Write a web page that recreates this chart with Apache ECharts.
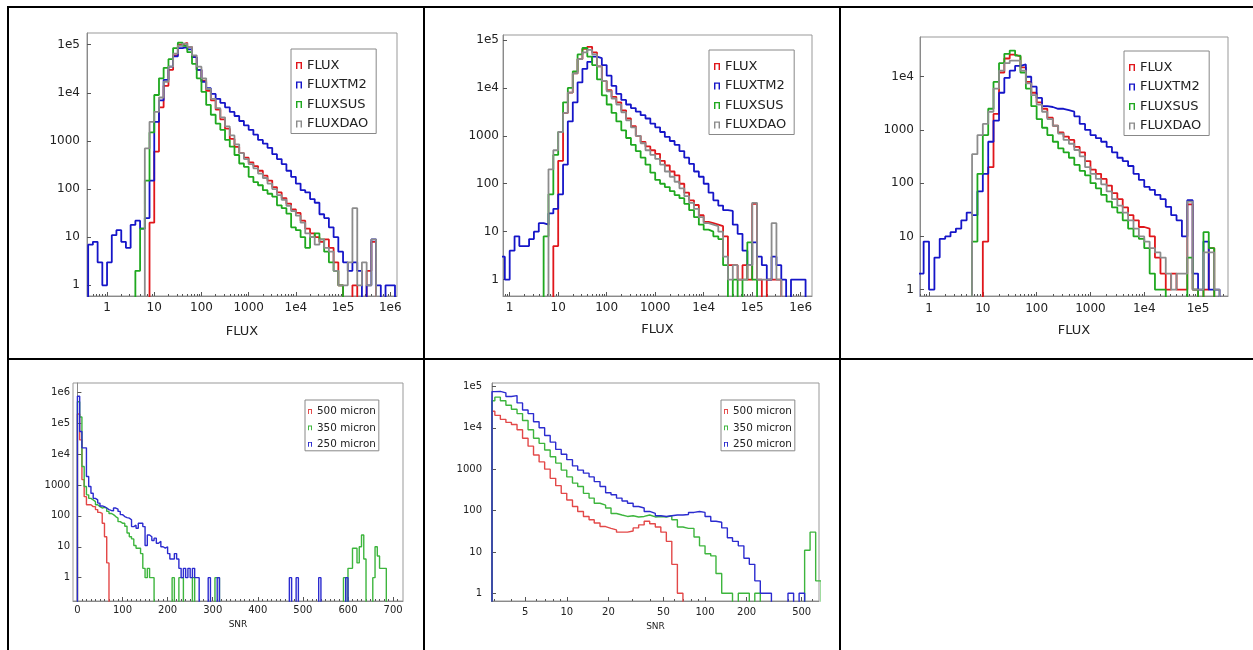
<!DOCTYPE html>
<html><head><meta charset="utf-8">
<script src="https://cdn.jsdelivr.net/npm/echarts@6/dist/echarts.min.js"></script>
<style>
html,body{margin:0;padding:0;background:#fff;}
#wrap{position:relative;width:1253px;height:650px;overflow:hidden;background:#fff;}
#chart{position:absolute;left:0;top:0;width:1253px;height:650px;}
.ln{position:absolute;background:#000;}
</style></head><body>
<div id="wrap">
<div id="chart"></div>
<div class="ln" style="left:7px;top:6px;width:1246px;height:2px"></div>
<div class="ln" style="left:7px;top:6px;width:2px;height:644px"></div>
<div class="ln" style="left:423px;top:6px;width:2px;height:644px"></div>
<div class="ln" style="left:839px;top:6px;width:2px;height:644px"></div>
<div class="ln" style="left:7px;top:358px;width:1246px;height:2px"></div>
</div>
<script>
// ---------------- DATA ----------------
// Shared log bin edges for the three FLUX histograms (0.1 dex bins)
const FLUX_EDGES = [0.398,0.501,0.631,0.794,
 1,1.26,1.58,2,2.51,3.16,3.98,5.01,6.31,7.94,
 10,12.6,15.8,20,25.1,31.6,39.8,50.1,63.1,79.4,
 100,126,158,200,251,316,398,501,631,794,
 1000,1260,1580,2000,2510,3160,3980,5010,6310,7940,
 1e4,1.26e4,1.58e4,2e4,2.51e4,3.16e4,3.98e4,5.01e4,6.31e4,7.94e4,
 1e5,1.26e5,1.58e5,2e5,2.51e5,3.16e5,3.98e5,5.01e5,6.31e5,7.94e5,
 1e6,1.26e6];
const FLUX_NAMES = ['FLUX','FLUXTM2','FLUXSUS','FLUXDAO'];

// Panel 1
const P1_FLUX = [0,0,0,0,0,0,0,0,0,0, 0,0,0,20,600,5000,14000,30000,60000,100000,
 110000,90000,55000,30000,18000,11000,7000,4500,2800,1800, 1100,750,560,450,360,300,240,190,150,110,
 85,65,50,38,32,22,15,12,10,8, 9,6,3,1,0,0,1,0,0,2, 8,0,0,0,0];
const P1_FLUXTM2 = [7,8,3,1,3,11,14,8,6,18, 22,15,25,150,2500,7000,18600,35000,57000,85000,
 90000,80000,55000,30000,17000,12500,9500,7500,6200,5000, 4000,3300,2600,2100,1700,1350,1050,880,720,530,
 420,330,240,180,130,95,85,62,52,30, 25,16,10,5,3,2,3,2,0,1, 9,1,0,1,1];
const P1_FLUXSUS = [0,0,0,0,0,0,0,0,0,0, 2,15,150,1500,9000,20000,33000,50000,85000,110000,
 95000,70000,40000,20000,10500,5600,3500,2300,1700,1050, 760,510,340,290,180,140,120,95,80,70,
 46,40,31,16,14,10,6,10,12,9, 5,3,2,1,0,0,0,0,0,0, 0,0,0,0,0];
const P1_FLUXDAO = [0,0,0,0,0,0,0,0,0,0, 0,0,700,2500,4000,8000,17000,35000,65000,95000,
 105000,90000,60000,35000,20000,12000,7500,4800,3100,2000, 1300,850,560,420,330,270,210,170,130,100,
 75,60,45,35,28,20,12,10,7,9, 6,5,2,1,1,3,40,1,3,1, 9,0,0,0,0];

// Panel 2
const P2_FLUX = [0,0,0,0,0,0,0,0,0,0, 0,0,0,5,300,3000,8000,20000,40000,65000,
 72000,55000,28000,14000,9000,6500,5000,3400,2300,1600, 1000,750,600,500,420,300,240,180,150,100,
 65,45,36,22,16,15,14,13,8,2, 2,1,2,1,38,1,0,1,1,1, 0,0,0,0,0];
const P2_FLUXTM2 = [0,0,3,1,4,8,5,5,7,10, 15,14,24,30,60,250,2000,5000,13000,25000,
 35000,45000,42000,30000,18000,11000,7500,5600,4500,3800, 3200,2700,2300,1800,1500,1200,950,780,650,480,
 350,260,180,140,100,65,45,35,28,27, 14,9,4,2,6,3,2,1,3,2, 1,0,1,1,1];
const P2_FLUXSUS = [0,0,0,0,0,0,0,0,0,0, 0,8,60,400,1200,5000,10000,22000,50000,68000,
 45000,30000,15000,7000,4500,3000,2000,1300,900,650, 480,350,250,170,120,100,85,70,58,50,
 38,28,20,14,11,10,8,7,2,0, 1,0,1,6,1,0,0,0,0,0, 0,0,0,0,0];
const P2_FLUXDAO = [0,0,0,0,0,0,0,0,0,0, 0,0,200,500,1200,3000,8000,20000,40000,55000,
 62000,50000,28000,14000,8500,6000,4500,3100,2100,1500, 1000,700,500,400,330,250,180,140,110,80,
 55,40,30,20,15,14,13,10,3,1, 2,1,1,2,40,1,1,1,15,1, 0,0,0,0,0];

// Panel 3
const P3_FLUX = [0,0,0,0,0,0,0,0,0,0, 0,0,0,0,8,200,2000,12000,22000,26000,
 24000,15000,8000,5000,3300,2500,1700,1200,900,750, 650,480,380,260,180,150,120,90,65,50,
 35,25,20,15,14,10,4,2,1,2, 1,1,40,1,0,1,6,0,0,0, 0,0,0,0,0];
const P3_FLUXTM2 = [0,0,2,8,1,4,9,10,12,14, 20,28,25,70,150,600,1500,5000,9500,13000,
 16000,17000,10000,6500,4000,2800,2700,2500,2500,2350, 2200,1800,1300,1000,800,700,600,480,380,300,
 260,210,150,115,85,75,60,50,36,25, 20,10,48,2,1,8,1,1,0,0, 0,0,0,0,0];
const P3_FLUXSUS = [0,0,0,0,0,0,0,0,0,0, 0,0,8,150,800,2500,8000,18000,27000,31000,
 25000,12000,6000,2800,1600,1100,800,600,450,380, 300,220,170,140,100,80,60,45,35,28,
 20,14,10,9,6,2,1,1,0,0, 0,0,4,1,0,12,6,0,0,0, 0,0,0,0,0];
const P3_FLUXDAO = [0,0,0,0,0,0,0,0,0,0, 0,0,350,800,1300,2200,6000,13000,18000,20000,
 20000,13000,7500,4500,3000,2200,1600,1200,850,650, 550,420,320,200,150,120,95,70,50,38,
 28,20,14,10,8,6,5,4,2,1, 2,2,45,1,1,5,5,1,0,0, 0,0,0,0,0];

// Panel 4 (linear SNR, bins of width 5): [bin start, count]
const SNR_LIN_BIN = 5;
const P4_500 = [[0,200000],[5,29000],[10,1500],[15,420],[20,230],[25,230],[30,200],[35,200],[40,160],[45,130],
 [50,120],[55,58],[60,21],[65,3]];
const P4_350 = [[0,500000],[5,160000],[10,4000],[15,900],[20,480],[25,370],[30,330],[35,290],[40,230],[45,200],
 [50,180],[55,190],[60,180],[65,140],[70,120],[75,110],[80,95],[85,85],[90,65],[95,58],[100,58],[105,46],
 [110,28],[115,21],[120,18],[125,11],[130,9],[135,9],[140,6],[145,2],[150,1],[155,2],[160,1],[165,1],
 [210,1],[225,1],[230,1],[255,1],[305,1],[310,1],
 [590,1],[600,2],[605,2],[610,9],[615,9],[620,3],[625,10],[630,24],[635,4],
 [655,1],[660,10],[665,5],[670,2],[675,2],[680,2]];
const P4_250 = [[0,750000],[5,54000],[10,16000],[15,16000],[20,1900],[25,900],[30,540],[35,370],[40,330],[45,260],
 [50,210],[55,200],[60,180],[65,160],[70,150],[75,145],[80,180],[85,165],[90,140],[95,110],[100,95],[105,88],
 [110,85],[115,75],[120,45],[125,50],[130,40],[135,58],[140,58],[145,45],[150,11],[155,24],[160,21],[165,16],
 [170,19],[175,13],[180,15],[185,10],[190,9],[195,10],[200,6],[205,4],[210,4],[215,6],[220,4],[225,2],[230,1],
 [235,2],[240,1],[245,2],[250,1],[255,2],[260,1],[265,1],[290,1],[310,1],[470,1],[485,1],[535,1],[595,1]];

// Panel 5 (log SNR bins)
const SNR_EDGES = [2.88,3.02,3.31,3.63,3.98,4.37,4.79,5.25,5.75,6.31,6.92,7.59,8.32,9.12,10,11,12,13.2,14.5,15.8,
 17.4,19.1,20.9,22.9,25.1,27.5,30.2,33.1,36.3,39.8,43.7,47.9,52.5,57.5,63.1,69.2,75.9,83.2,91.2,100,
 110,120,132,145,158,174,191,209,229,251,275,302,331,363,398,437,479,525,575,631,692];
const P5_500 = [25000,20000,16000,13500,12000,9000,5600,3600,2200,1500, 1000,600,400,260,180,125,95,72,60,50,
 41,37,34,30,30,32,38,45,55,48, 40,30,18,5,1,0,0,0,0,0, 0,0,0,0,0,0,0,0,0,0, 0,0,0,0,0,0,0,0,0,0];
const P5_350 = [45000,55000,45000,35000,28000,22000,15000,9000,5600,4200, 2900,2000,1400,950,650,460,380,260,200,150,
 135,115,85,78,72,75,70,72,78,70, 72,70,75,60,40,37,37,23,14,9, 8,3,1,1,0,1,1,0,1,0, 0,0,0,0,0,0,0,11,30,2];
const P5_250 = [75000,76000,70000,57000,60000,40000,27000,22000,14000,10000, 6500,4500,3000,2300,1700,1200,950,800,650,500,
 380,270,240,200,170,150,125,115,95,85, 75,72,75,78,78,80,90,95,90,72, 55,52,38,22,18,14,7,5,2,1, 1,0,0,0,1,0,1,0,0,0];
const SNR_NAMES = ['500 micron','350 micron','250 micron'];

// Tick values and labels
const FLUX_XTICKS = [1,10,100,1000,1e4,1e5,1e6];
const FLUX_XLABELS = ['1','10','100','1000','1e4','1e5','1e6'];
const COUNT_TICKS = [1,10,100,1000,1e4,1e5,1e6];
const COUNT_LABELS = ['1','10','100','1000','1e4','1e5','1e6'];
const SNR_LIN_TICKS = [0,100,200,300,400,500,600,700];
const SNR_LIN_LABELS = ['0','100','200','300','400','500','600','700'];
const SNR_LOG_TICKS = [5,10,20,50,100,200,500];
const SNR_LOG_LABELS = ['5','10','20','50','100','200','500'];
const FLUX_MINOR = [];
[0.1,1,10,100,1000,1e4,1e5,1e6].forEach(d => [2,3,4,5,6,7,8,9].forEach(m => FLUX_MINOR.push(+(d*m).toPrecision(3))));
const SNR_LOG_MINOR = [3,4,6,7,8,9,30,40,60,70,80,90,300,400,600];
const SNR_LIN_MINOR = [];
for (let v = 10; v < 720; v += 10) if (v % 100) SNR_LIN_MINOR.push(v);

// ---------------- HELPERS ----------------
const FLOOR = 1e-3;
function histEdges(edges, counts) {
  const pts = []; let prevZero = true;
  for (let i = 0; i < counts.length; i++) {
    const c = counts[i];
    if (c > 0) {
      if (prevZero) pts.push([edges[i], FLOOR]);
      pts.push([edges[i], c], [edges[i + 1], c]);
      prevZero = false;
    } else {
      if (!prevZero) pts.push([edges[i], FLOOR]);
      prevZero = true;
    }
  }
  if (!prevZero) pts.push([edges[counts.length], FLOOR]);
  return pts;
}
function histSparse(pairs, w) {
  const pts = []; let prevEnd = null;
  pairs.forEach(([x, c]) => {
    if (prevEnd === null || Math.abs(x - prevEnd) > 1e-9) {
      if (prevEnd !== null) pts.push([prevEnd, FLOOR]);
      pts.push([x, FLOOR]);
    }
    pts.push([x, c], [x + w, c]);
    prevEnd = x + w;
  });
  pts.push([prevEnd, FLOOR]);
  return pts;
}
function fmt(ticks, labels) {
  return function (v) {
    for (let k = 0; k < ticks.length; k++) {
      if (Math.abs(v - ticks[k]) <= Math.max(1e-9, Math.abs(ticks[k]) * 1e-6)) return labels[k];
    }
    return '';
  };
}
const AXC = '#8a8a8a';
function mkX(gi, type, min, max, ticks, labels, minor, font, fs, name, nfs, ngap, margin) {
  return [{
    gridIndex: gi, type, min, max, position: 'bottom', name, nameLocation: 'middle', nameGap: ngap, nameMoveOverlap: false,
    nameTextStyle: { fontFamily: font, fontSize: nfs, color: '#222' },
    axisLine: { show: true, lineStyle: { color: AXC, width: 1 } },
    axisTick: { show: true, inside: true, length: 4, customValues: ticks, lineStyle: { color: '#555' } },
    axisLabel: { show: true, customValues: ticks, formatter: fmt(ticks, labels), fontFamily: font, fontSize: fs,
      color: '#222', margin, hideOverlap: false },
    splitLine: { show: false }
  }, {
    gridIndex: gi, type, min, max, position: 'bottom',
    axisLine: { show: false },
    axisTick: { show: true, inside: true, length: 2, customValues: minor, lineStyle: { color: '#555' } },
    axisLabel: { show: false }, splitLine: { show: false }
  }];
}
function mkY(gi, min, max, ticks, labels, font, fs, margin) {
  return {
    gridIndex: gi, type: 'log', min, max, position: 'left',
    axisLine: { show: true, lineStyle: { color: AXC, width: 1 } },
    axisTick: { show: true, inside: true, length: 4, customValues: ticks, lineStyle: { color: '#555' } },
    axisLabel: { show: true, customValues: ticks, formatter: fmt(ticks, labels), fontFamily: font, fontSize: fs,
      color: '#222', margin, hideOverlap: false },
    splitLine: { show: false }
  };
}
function mkGrid(left, top, width, height) {
  return { left, top, width, height, show: true, borderColor: '#999', borderWidth: 1,
    backgroundColor: 'rgba(0,0,0,0)', containLabel: false, outerBoundsMode: 'none' };
}
function mkSeries(name, data, xi, yi, color, width) {
  return { name, type: 'line', data, xAxisIndex: xi, yAxisIndex: yi, symbol: 'none', showSymbol: false,
    clip: true, silent: true, animation: false, lineStyle: { color, width }, itemStyle: { color },
    emphasis: { disabled: true } };
}
// filled "⊓" outline glyph used as legend icon
const ICON = 'path://M0,12 L0,0 L10,0 L10,12 L7.6,12 L7.6,2.2 L2.4,2.2 L2.4,12 Z';
function mkLegend(names, colors, left, top, opt) {
  return {
    data: names.map((n, k) => ({ name: n, icon: ICON, itemStyle: { color: colors[k], borderWidth: 0 } })),
    orient: 'vertical', left, top, selectedMode: false, icon: ICON,
    itemWidth: opt.iw, itemHeight: opt.ih, itemGap: opt.gap, padding: opt.pad,
    borderColor: '#888', borderWidth: 1, backgroundColor: '#fff',
    itemStyle: { borderWidth: 0 },
    textStyle: { fontFamily: opt.font, fontSize: opt.fs, lineHeight: opt.lh, color: '#222' }
  };
}

// ---------------- OPTION ----------------
const TOPF = 'DejaVu Sans', BOTF = 'DejaVu Sans';
const TOPCOL = ['#e0161b', '#1515c8', '#1fa81f', '#8c8c8c'];
const BOTCOL = ['#e34848', '#3db53d', '#2b2bcf'];
const TOPLEG = { iw: 6, ih: 9, gap: 6.5, pad: [10, 8, 3, 5], font: TOPF, fs: 13, lh: 13 };
const BOTLEG = { iw: 4, ih: 7, gap: 5.4, pad: [6, 3, 1, 3], font: BOTF, fs: 10.4, lh: 11 };

const grid = [
  mkGrid(87, 33, 310, 263),
  mkGrid(503, 35, 309, 261),
  mkGrid(920, 37, 308, 259),
  mkGrid(73, 383, 330, 218),
  mkGrid(492, 383, 327, 218)
];
const xAxis = [].concat(
  mkX(0, 'log', 0.376, 1.39e6, FLUX_XTICKS, FLUX_XLABELS, FLUX_MINOR, TOPF, 12, 'FLUX', 13, 29, 6),
  mkX(1, 'log', 0.728, 1.71e6, FLUX_XTICKS, FLUX_XLABELS, FLUX_MINOR, TOPF, 12, 'FLUX', 13, 27, 6),
  mkX(2, 'log', 0.68, 3.6e5, FLUX_XTICKS, FLUX_XLABELS, FLUX_MINOR, TOPF, 12, 'FLUX', 13, 28, 7),
  mkX(3, 'value', -9.8, 722, SNR_LIN_TICKS, SNR_LIN_LABELS, SNR_LIN_MINOR, BOTF, 10, 'SNR', 9, 19, 4),
  mkX(4, 'log', 2.88, 667, SNR_LOG_TICKS, SNR_LOG_LABELS, SNR_LOG_MINOR, BOTF, 10, 'SNR', 9, 21, 6)
);
const yAxis = [
  mkY(0, 0.6, 175000, COUNT_TICKS, COUNT_LABELS, TOPF, 12, 7),
  mkY(1, 0.454, 127000, COUNT_TICKS, COUNT_LABELS, TOPF, 12, 4),
  mkY(2, 0.758, 55800, COUNT_TICKS, COUNT_LABELS, TOPF, 12, 6),
  mkY(3, 0.175, 2.02e6, COUNT_TICKS, COUNT_LABELS, BOTF, 10, 3),
  mkY(4, 0.651, 120900, COUNT_TICKS, COUNT_LABELS, BOTF, 10, 10)
];
const TW = 1.8, BW = 1.4;
const series = [];
[[P1_FLUX, P1_FLUXTM2, P1_FLUXSUS, P1_FLUXDAO],
 [P2_FLUX, P2_FLUXTM2, P2_FLUXSUS, P2_FLUXDAO],
 [P3_FLUX, P3_FLUXTM2, P3_FLUXSUS, P3_FLUXDAO]].forEach((set, p) => {
  set.forEach((counts, k) => series.push(mkSeries(FLUX_NAMES[k], histEdges(FLUX_EDGES, counts), p * 2, p, TOPCOL[k], TW)));
});
[P4_500, P4_350, P4_250].forEach((pairs, k) => series.push(mkSeries(SNR_NAMES[k], histSparse(pairs, SNR_LIN_BIN), 6, 3, BOTCOL[k], BW)));
[P5_500, P5_350, P5_250].forEach((counts, k) => series.push(mkSeries(SNR_NAMES[k], histEdges(SNR_EDGES, counts), 8, 4, BOTCOL[k], BW)));

const legend = [
  mkLegend(FLUX_NAMES, TOPCOL, 291, 49, TOPLEG),
  mkLegend(FLUX_NAMES, TOPCOL, 709, 50, TOPLEG),
  mkLegend(FLUX_NAMES, TOPCOL, 1124, 51, TOPLEG),
  mkLegend(SNR_NAMES, BOTCOL, 305, 400, BOTLEG),
  mkLegend(SNR_NAMES, BOTCOL, 721, 400, BOTLEG)
];

const chart = echarts.init(document.getElementById('chart'), null, { renderer: 'canvas', width: 1253, height: 650 });
chart.setOption({ animation: false, backgroundColor: '#fff', grid, xAxis, yAxis, series, legend, tooltip: { show: false } });
</script>
</body></html>
